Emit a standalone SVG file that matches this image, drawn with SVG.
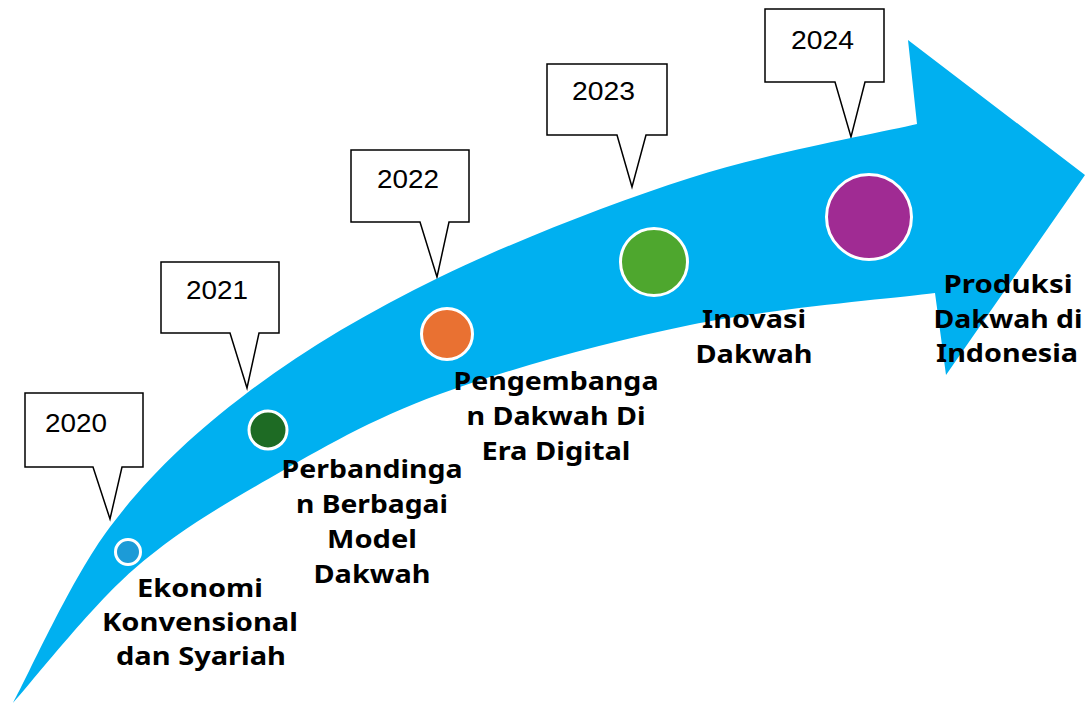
<svg xmlns="http://www.w3.org/2000/svg" width="1089" height="705" viewBox="0 0 1089 705">
<style>
.callout{fill:#fff;stroke:#000;stroke-width:1.5;stroke-linejoin:miter}
.year{font-family:"Liberation Sans",Arial,sans-serif;font-size:25px;fill:#000}
.lbl{font-family:"Noto Sans","Open Sans",sans-serif;font-weight:700;font-size:25px;fill:#000;text-anchor:middle}
.dot{stroke:#fff;stroke-width:3}
</style>
<rect width="1089" height="705" fill="#fff"/>
<g id="callouts">
<g id="c2020"><path class="callout" d="M25 393H143V467H122L110 519L93 467H25Z"/><text class="year" x="45" y="432" textLength="62" lengthAdjust="spacingAndGlyphs">2020</text></g>
<g id="c2021"><path class="callout" d="M161 262H279V333H259L247 388L230 333H161Z"/><text class="year" x="186" y="299" textLength="62" lengthAdjust="spacingAndGlyphs">2021</text></g>
<g id="c2022"><path class="callout" d="M351 150H469V222H449L437 277L420 222H351Z"/><text class="year" x="377" y="188" textLength="62" lengthAdjust="spacingAndGlyphs">2022</text></g>
<g id="c2023"><path class="callout" d="M547 64H667V135H646L632 187L617 135H547Z"/><text class="year" x="572" y="100" textLength="63" lengthAdjust="spacingAndGlyphs">2023</text></g>
<g id="c2024"><path class="callout" d="M765 9H884V82H865L851 137L835 82H765Z"/><text class="year" x="791" y="49" textLength="63" lengthAdjust="spacingAndGlyphs">2024</text></g>
</g>
<g id="arrow">
<path fill="#00B0F0" d="M13 703C29.2 673.7 71 578.7 110 527C149 475.3 192 434.7 247 393C302 351.3 366.2 312.8 440 277C513.8 241.2 610.5 203.5 690 178C769.5 152.5 879.2 133 917 124L908 40L1085 175L946 375L935 293C894.2 298.3 772.5 308.2 690 325C607.5 341.8 510 368.5 440 394C370 419.5 321.2 448.7 270 478C218.8 507.3 175.8 532.5 133 570C90.2 607.5 33 680.8 13 703Z"/>
</g>
<g id="milestones">
<g id="m2020"><circle class="dot" cx="128" cy="552" r="12.5" fill="#1C9BD7"/><text class="lbl"><tspan x="200" y="597" textLength="126" lengthAdjust="spacingAndGlyphs">Ekonomi</tspan><tspan x="200" y="631" textLength="196" lengthAdjust="spacingAndGlyphs">Konvensional</tspan><tspan x="201" y="665" textLength="170" lengthAdjust="spacingAndGlyphs">dan Syariah</tspan></text></g>
<g id="m2021"><circle class="dot" cx="268" cy="430" r="19" fill="#1E6B24"/><text class="lbl"><tspan x="372" y="478" textLength="181" lengthAdjust="spacingAndGlyphs">Perbandinga</tspan><tspan x="372" y="513" textLength="152" lengthAdjust="spacingAndGlyphs">n Berbagai</tspan><tspan x="372" y="548" textLength="90" lengthAdjust="spacingAndGlyphs">Model</tspan><tspan x="372" y="583" textLength="117" lengthAdjust="spacingAndGlyphs">Dakwah</tspan></text></g>
<g id="m2022"><circle class="dot" cx="447" cy="334" r="25.5" fill="#E97132"/><text class="lbl"><tspan x="556" y="390" textLength="205" lengthAdjust="spacingAndGlyphs">Pengembanga</tspan><tspan x="556" y="425" textLength="179" lengthAdjust="spacingAndGlyphs">n Dakwah Di</tspan><tspan x="556" y="460" textLength="149" lengthAdjust="spacingAndGlyphs">Era Digital</tspan></text></g>
<g id="m2023"><circle class="dot" cx="654" cy="262" r="33.5" fill="#4EA72E"/><text class="lbl"><tspan x="754" y="328" textLength="104" lengthAdjust="spacingAndGlyphs">Inovasi</tspan><tspan x="754" y="363" textLength="117" lengthAdjust="spacingAndGlyphs">Dakwah</tspan></text></g>
<g id="m2024"><circle class="dot" cx="869" cy="217" r="42.5" fill="#A02B93"/><text class="lbl"><tspan x="1008" y="293" textLength="129" lengthAdjust="spacingAndGlyphs">Produksi</tspan><tspan x="1008" y="328" textLength="149" lengthAdjust="spacingAndGlyphs">Dakwah di</tspan><tspan x="1007" y="362" textLength="142" lengthAdjust="spacingAndGlyphs">Indonesia</tspan></text></g>
</g>
</svg>
